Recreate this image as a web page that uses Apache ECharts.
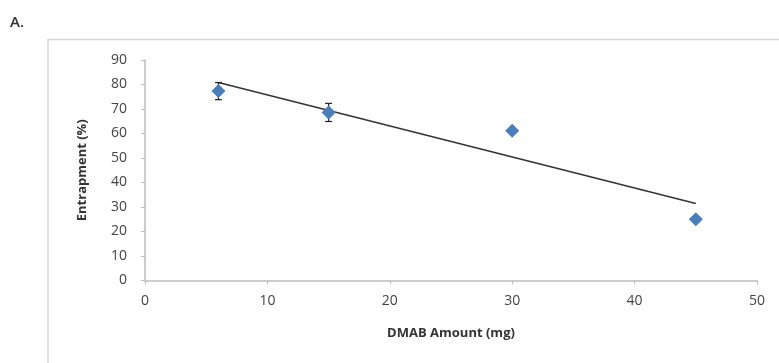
<!DOCTYPE html>
<html>
<head>
<meta charset="utf-8">
<script src="https://cdn.jsdelivr.net/npm/echarts@6/dist/echarts.min.js"></script>
<style>
  html, body { margin: 0; padding: 0; background: #fff; }
  #chart { width: 779px; height: 363px; }
</style>
</head>
<body>
<div id="chart"></div>
<script>
  // DMAB amount (mg) vs entrapment (%)
  var dmabAmount = [6, 15, 30, 45];
  var entrapment = [77.3, 68.6, 61.1, 25.0];
  var errorSize = [3.5, 3.7, 0, 0];

  var xTicks = { min: 0, max: 50, step: 10 };
  var yTicks = { min: 0, max: 90, step: 10 };

  // linear trend line (least squares) over the points
  var n = dmabAmount.length, mx = 0, my = 0;
  for (var i = 0; i < n; i++) { mx += dmabAmount[i]; my += entrapment[i]; }
  mx /= n; my /= n;
  var sxx = 0, sxy = 0;
  for (var i = 0; i < n; i++) {
    sxx += (dmabAmount[i] - mx) * (dmabAmount[i] - mx);
    sxy += (dmabAmount[i] - mx) * (entrapment[i] - my);
  }
  var slope = sxy / sxx, icpt = my - slope * mx;
  var xFirst = Math.min.apply(null, dmabAmount), xLast = Math.max.apply(null, dmabAmount);
  var trendData = [[xFirst, icpt + slope * xFirst], [xLast, icpt + slope * xLast]];

  var points = dmabAmount.map(function (x, i) { return [x, entrapment[i]]; });
  var errData = dmabAmount.map(function (x, i) {
    return [x, entrapment[i] - errorSize[i], entrapment[i] + errorSize[i]];
  });

  var font = 'Open Sans';
  var chart = echarts.init(document.getElementById('chart'));
  var option = {
    animation: false,
    backgroundColor: '#fff',
    textStyle: { fontFamily: font },
    graphic: [
      { type: 'text', left: 10, top: 15, style: { text: 'A.', fontSize: 15, fontWeight: 600, fontFamily: font, fill: '#333' } },
      { type: 'rect', shape: { x: 48, y: 39.5, width: 760, height: 360 },
        style: { fill: 'none', stroke: '#d6d6d6', lineWidth: 1.5 } }
    ],
    grid: { left: 145, right: 22, top: 60, bottom: 82.5 },
    xAxis: {
      type: 'value', min: xTicks.min, max: xTicks.max, interval: xTicks.step,
      name: 'DMAB Amount (mg)', nameLocation: 'middle', nameGap: 46,
      nameTextStyle: { fontSize: 13, fontWeight: 'bold', color: '#333', fontFamily: font },
      axisLine: { lineStyle: { color: '#bdbdbd', width: 1.5 } },
      axisTick: { show: true, length: 4, lineStyle: { color: '#bdbdbd' } },
      axisLabel: { fontSize: 14, color: '#444', margin: 14 },
      splitLine: { show: false }
    },
    yAxis: {
      type: 'value', min: yTicks.min, max: yTicks.max, interval: yTicks.step,
      name: 'Entrapment (%)', nameLocation: 'middle', nameGap: 56, nameRotate: 90,
      nameTextStyle: { fontSize: 13, fontWeight: 'bold', color: '#333', fontFamily: font },
      axisLine: { show: true, lineStyle: { color: '#bdbdbd', width: 1.5 } },
      axisTick: { show: true, length: 4, lineStyle: { color: '#bdbdbd' } },
      axisLabel: { fontSize: 14, color: '#444', margin: 18 },
      splitLine: { show: false }
    },
    series: [
      {
        type: 'line', data: trendData, symbol: 'none', z: 2,
        lineStyle: { color: '#333', width: 1.5 }
      },
      {
        type: 'custom', z: 3, data: errData,
        renderItem: function (params, api) {
          var top = api.coord([api.value(0), api.value(2)]);
          var bot = api.coord([api.value(0), api.value(1)]);
          var cap = 3.5;
          var st = { stroke: '#222', lineWidth: 1.2 };
          return {
            type: 'group',
            children: [
              { type: 'line', shape: { x1: top[0], y1: top[1], x2: bot[0], y2: bot[1] }, style: st },
              { type: 'line', shape: { x1: top[0] - cap, y1: top[1], x2: top[0] + cap, y2: top[1] }, style: st },
              { type: 'line', shape: { x1: bot[0] - cap, y1: bot[1], x2: bot[0] + cap, y2: bot[1] }, style: st }
            ]
          };
        }
      },
      {
        type: 'scatter', data: points, symbol: 'diamond', symbolSize: 14, z: 4,
        itemStyle: { color: '#4a7ebb', opacity: 1 }
      }
    ]
  };
  chart.setOption(option);
</script>
</body>
</html>
